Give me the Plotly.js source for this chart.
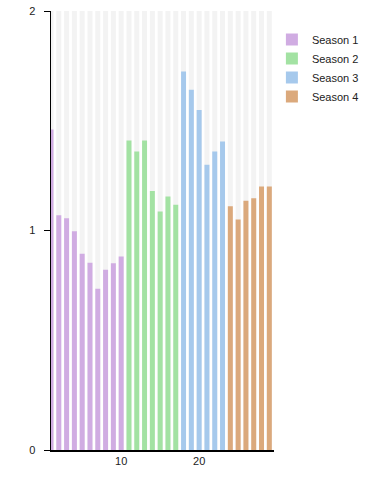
<!DOCTYPE html>
<html>
<head>
<meta charset="utf-8">
<script src="https://cdn.plot.ly/plotly-3.0.1.min.js"></script>
<style>html,body{margin:0;padding:0;background:#fff;}#chart{width:374px;height:500px;}</style>
</head>
<body>
<div id="chart"></div>
<script>
var seriesNames = ["Season 1", "Season 2", "Season 3", "Season 4"];
var season1X = [1, 2, 3, 4, 5, 6, 7, 8, 9, 10];
var season1Y = [1.46, 1.07, 1.056, 0.997, 0.894, 0.853, 0.735, 0.821, 0.851, 0.882];
var season2X = [11, 12, 13, 14, 15, 16, 17];
var season2Y = [1.41, 1.36, 1.41, 1.18, 1.086, 1.155, 1.117];
var season3X = [18, 19, 20, 21, 22, 23];
var season3Y = [1.724, 1.641, 1.549, 1.30, 1.36, 1.406];
var season4X = [24, 25, 26, 27, 28, 29];
var season4Y = [1.11, 1.05, 1.136, 1.147, 1.20, 1.20];
var trackX = [1,2,3,4,5,6,7,8,9,10,11,12,13,14,15,16,17,18,19,20,21,22,23,24,25,26,27,28,29];
var trackMax = 2;
var colors = ["#d0ace2", "#a3e2a3", "#a6c9ec", "#dba97c"];

var trackY = trackX.map(function(){ return trackMax; });
var traces = [{
  type: "bar", x: trackX, y: trackY, showlegend: false, hoverinfo: "skip",
  marker: {color: "#f3f3f3", line: {width: 0}}
}];
var xs = [season1X, season2X, season3X, season4X];
var ys = [season1Y, season2Y, season3Y, season4Y];
for (var i = 0; i < 4; i++) {
  traces.push({type: "bar", name: seriesNames[i], x: xs[i], y: ys[i],
    marker: {color: colors[i], line: {width: 0}}});
}
var layout = {
  width: 374, height: 500,
  margin: {l: 51, r: 100, t: 11, b: 50, autoexpand: false},
  barmode: "overlay", bargap: 0.36,
  paper_bgcolor: "#fff", plot_bgcolor: "#fff",
  font: {family: "Liberation Sans, Arial, sans-serif", size: 11, color: "#222"},
  xaxis: {range: [1, 29.6], tickvals: [10, 20], ticks: "", showgrid: false, zeroline: false,
    showline: true, linecolor: "#000", linewidth: 1.5, tickfont: {size: 11, color: "#222"}},
  yaxis: {range: [0, 2], tickvals: [0, 1, 2], ticks: "outside", ticklen: 6, tickcolor: "#000",
    showgrid: false, zeroline: false, showline: true, linecolor: "#000", linewidth: 1.5,
    tickfont: {size: 11, color: "#222"}, ticklabelstandoff: 6},
  legend: {xref: "container", yref: "container", x: 0.727, y: 0.95, xanchor: "left", yanchor: "top",
    font: {size: 11, color: "#222"}, bgcolor: "rgba(0,0,0,0)", itemwidth: 30}
};
Plotly.newPlot("chart", traces, layout, {displayModeBar: false, staticPlot: true});
</script>
</body>
</html>
